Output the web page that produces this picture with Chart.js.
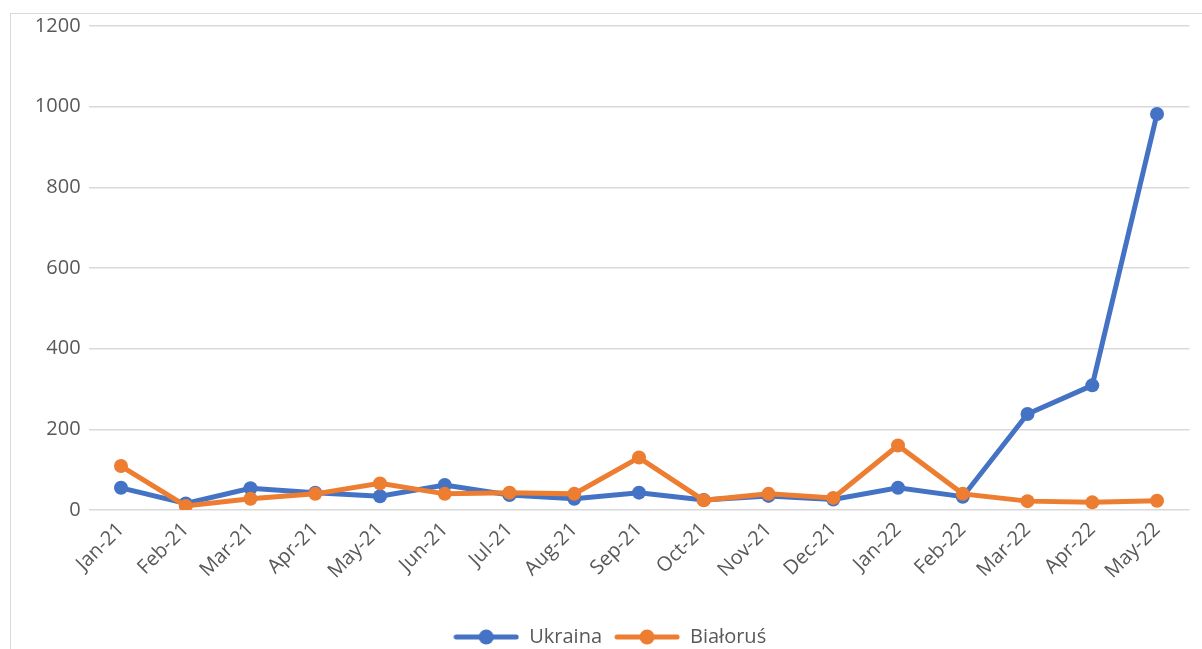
<!DOCTYPE html>
<html>
<head>
<meta charset="utf-8">
<script src="https://cdn.jsdelivr.net/npm/chart.js@4/dist/chart.umd.min.js"></script>
<style>
    html, body { margin: 0; padding: 0; background: #fff; overflow: hidden; }
    .frame { position: absolute; left: 10px; top: 13px; width: 1400px; height: 800px; border: 1px solid #d9d9d9; }
    .wrap { position: absolute; left: 0; top: 0; width: 1202px; height: 649px; }
</style>
</head>
<body>
<div class="frame"></div>
<div class="wrap"><canvas id="chart"></canvas></div>
<script>
const months = ['Jan-21', 'Feb-21', 'Mar-21', 'Apr-21', 'May-21', 'Jun-21', 'Jul-21', 'Aug-21', 'Sep-21',
    'Oct-21', 'Nov-21', 'Dec-21', 'Jan-22', 'Feb-22', 'Mar-22', 'Apr-22', 'May-22'];
const ukraina = [55, 16, 54, 43, 34, 62, 37, 28, 43, 25, 35, 26, 55, 33, 238, 309, 982];
const bialorus = [109, 10, 28, 40, 66, 40, 43, 40, 130, 24, 40, 30, 160, 40, 22, 19, 23];
const yTicks = [0, 200, 400, 600, 800, 1000, 1200];

const blue = '#4472c4';
const orange = '#ed7d31';
const font = "'Open Sans', 'DejaVu Sans', sans-serif";

// legend swatch: a short line with a dot in the middle
function swatch(color) {
    const c = document.createElement('canvas');
    c.width = 66;
    c.height = 16;
    const g = c.getContext('2d');
    g.strokeStyle = color;
    g.lineWidth = 5;
    g.lineCap = 'round';
    g.beginPath();
    g.moveTo(3, 8);
    g.lineTo(63, 8);
    g.stroke();
    g.fillStyle = color;
    g.beginPath();
    g.arc(33, 8, 7.5, 0, Math.PI * 2);
    g.fill();
    return c;
}

// nudge the legend a bit right of centre
const legendShift = {
    id: 'legendShift',
    afterLayout(chart) {
        chart.legend.left += 15;
        chart.legend.right += 15;
    }
};

const ctx = document.getElementById('chart').getContext('2d');

new Chart(ctx, {
    type: 'line',
    data: {
        labels: months,
        datasets: [{
            label: 'Ukraina',
            data: ukraina,
            borderColor: blue,
            backgroundColor: blue,
            borderWidth: 5,
            pointRadius: 7,
            pointBorderWidth: 0,
            order: 1
        },
        {
            label: 'Białoruś',
            data: bialorus,
            borderColor: orange,
            backgroundColor: orange,
            borderWidth: 5,
            pointRadius: 7,
            pointBorderWidth: 0,
            order: 0
        }]
    },
    options: {
        responsive: true,
        maintainAspectRatio: false,
        animation: false,
        layout: { padding: { top: 26, right: 12.6, left: 0, bottom: -8 } },
        plugins: {
            tooltip: { enabled: false },
            legend: {
                position: 'bottom',
                labels: {
                    usePointStyle: true,
                    pointStyleWidth: 66,
                    padding: 12,
                    color: '#595959',
                    font: { family: font, size: 20 },
                    generateLabels: (chart) => chart.data.datasets.map((ds, i) => ({
                        text: ds.label,
                        datasetIndex: i,
                        pointStyle: swatch(ds.borderColor),
                        fontColor: '#595959',
                        lineWidth: 0,
                        hidden: false
                    }))
                }
            }
        },
        scales: {
            x: {
                offset: true,
                grid: { display: false, drawTicks: false },
                border: { display: false },
                ticks: {
                    color: '#595959',
                    font: { family: font, size: 20 },
                    minRotation: 45,
                    maxRotation: 45,
                    padding: 8
                },
                afterFit: (scale) => { scale.height = 105; }
            },
            y: {
                min: 0,
                max: 1200,
                afterBuildTicks: (scale) => { scale.ticks = yTicks.map(v => ({ value: v })); },
                grid: { color: '#d9d9d9', lineWidth: 1.5, drawTicks: false },
                border: { display: false },
                ticks: {
                    color: '#595959',
                    font: { family: font, size: 20 },
                    padding: 8,
                    callback: (v) => String(v)
                },
                afterFit: (scale) => { scale.width = 88.6; }
            }
        }
    },
    plugins: [legendShift]
});
</script>
</body>
</html>
